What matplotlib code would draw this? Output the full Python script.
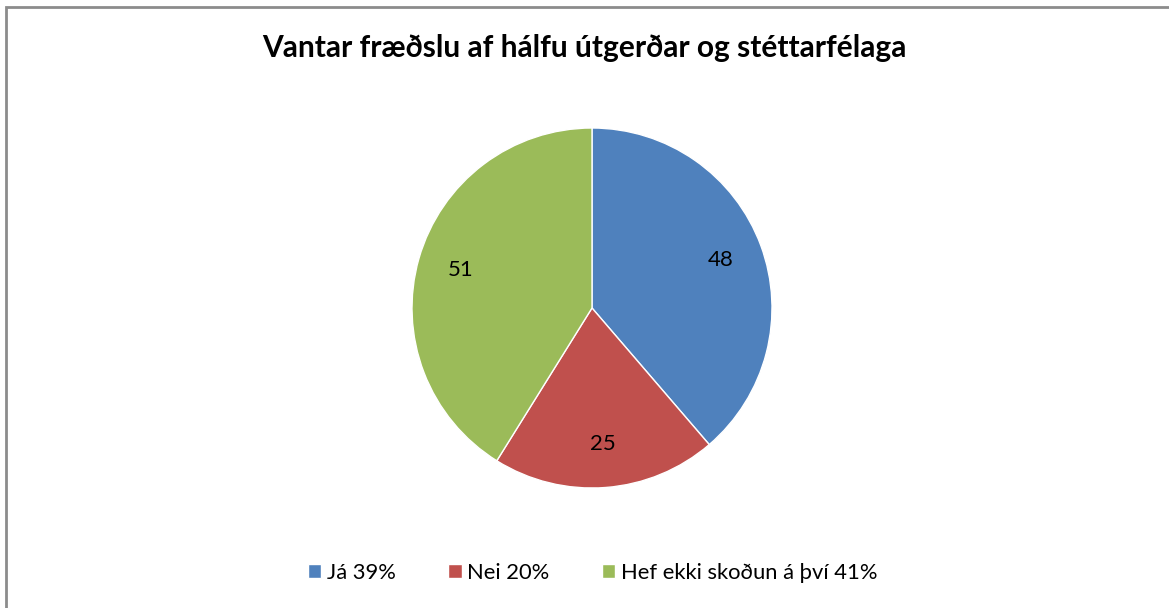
import matplotlib.pyplot as plt
from matplotlib.patches import Rectangle

plt.rcParams['font.family'] = ['Lato', 'DejaVu Sans']

labels = ["Já 39%", "Nei 20%", "Hef ekki skoðun á því 41%"]
values = [48, 25, 51]
colors = ["#4F81BD", "#C0504D", "#9BBB59"]
title = "Vantar fræðslu af hálfu útgerðar og stéttarfélaga"

W, H = 1169, 608
fig = plt.figure(figsize=(W / 100, H / 100), dpi=100)

# outer chart border (right and bottom fall outside the image)
fig.patches.append(Rectangle((5.5 / W, -1), 2, 2 - 6.5 / H, transform=fig.transFigure,
                             fill=False, edgecolor="#8c8c8c", linewidth=2))

cx, cy, r = 592, 308, 180
ax = fig.add_axes([(cx - r) / W, (H - cy - r) / H, 2 * r / W, 2 * r / H])
wedges, texts, autotexts = ax.pie(values, colors=colors, startangle=90, counterclock=False,
                                  autopct=lambda p: f"{round(p * sum(values) / 100):d}",
                                  pctdistance=0.76,
                                  wedgeprops=dict(edgecolor="white", linewidth=1),
                                  textprops=dict(fontsize=16, color="black"))
ax.set_xlim(-1, 1)
ax.set_ylim(-1, 1)
ax.set_aspect("equal")

fig.text(0.5, 1 - 48 / H, title, ha="center", va="center", fontsize=21.5, fontweight="bold")

fig.legend(wedges, labels, loc="center", bbox_to_anchor=(0.507, 1 - 573 / H), ncol=3,
           frameon=False, fontsize=15.8, handlelength=0.6, handleheight=0.6,
           handletextpad=0.25, columnspacing=2.4)

fig.savefig("out.png", dpi=100)
